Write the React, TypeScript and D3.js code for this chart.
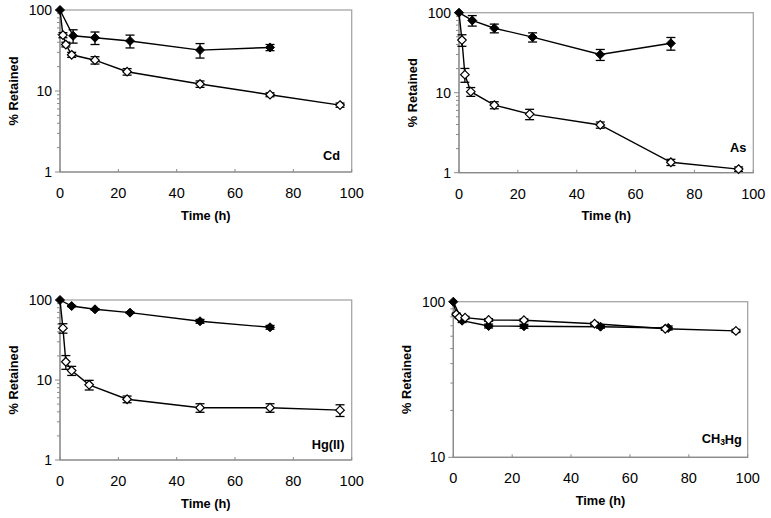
import React from "react";
import * as d3 from "d3";

// ---- Data ----
const cdFilledT = [0, 4.5, 12, 24, 48, 72];
const cdFilledV = [100, 48, 45.5, 41.5, 32, 34.5];
const cdFilledE = [0, 9, 8, 7.5, 6.5, 3];
const cdOpenT = [0, 1, 2, 4, 12, 23, 48, 72, 96];
const cdOpenV = [100, 49, 37.5, 28, 24, 17.3, 12.2, 9, 6.7];
const cdOpenE = [0, 3.5, 2.5, 2, 2.5, 1.6, 1.1, 0.5, 0.4];

const asFilledT = [0, 4.5, 12, 25, 48, 72];
const asFilledV = [100, 80, 64, 49.5, 30, 41.5];
const asFilledE = [0, 12, 8, 6.5, 4.7, 7.5];
const asOpenT = [0, 1, 2, 4, 12, 24, 48, 72, 95];
const asOpenV = [100, 45.5, 16.8, 10.3, 7, 5.4, 3.95, 1.35, 1.11];
const asOpenE = [0, 7.5, 3.3, 1.3, 0.7, 0.8, 0.35, 0.12, 0.07];

const hgFilledT = [0, 4, 12, 24, 48, 72];
const hgFilledV = [100, 84, 76.5, 69.5, 54.2, 45.6];
const hgFilledE = [0, 1.5, 1.5, 1.5, 3, 2.5];
const hgOpenT = [0, 1, 2, 4, 10, 23, 48, 72, 96];
const hgOpenV = [100, 44.5, 16.9, 13.1, 8.7, 5.75, 4.5, 4.5, 4.2];
const hgOpenE = [0, 6, 3.3, 1.7, 1.2, 0.55, 0.55, 0.55, 0.7];

const mhgFilledT = [0, 3, 12, 24, 50, 73];
const mhgFilledV = [100, 75.5, 69.8, 69.5, 69.1, 67.8];
const mhgFilledE = [0, 2, 2, 2, 1.5, 2];
const mhgOpenT = [0, 1, 2, 4, 12, 24, 48, 72, 96];
const mhgOpenV = [100, 83, 79.4, 79, 76.3, 76, 72.2, 67, 64.9];
const mhgOpenE = [0, 1.5, 1.5, 1.5, 1.5, 1.5, 1.5, 1.5, 1.5];

const xTicks = [0, 20, 40, 60, 80, 100];
const xLabel = "Time (h)";
const yLabel = "% Retained";

type Panel = {
  left: number; right: number; top: number; bottom: number;
  yDomain: [number, number];
  label: string; sub?: boolean; labelT: number; labelV: number;
  fT: number[]; fV: number[]; fE: number[];
  oT: number[]; oV: number[]; oE: number[];
};

const panels: Panel[] = [
  { left: 60, right: 351.7, top: 10, bottom: 172, yDomain: [1, 100], label: "Cd", labelT: 93.1, labelV: 1.62,
    fT: cdFilledT, fV: cdFilledV, fE: cdFilledE, oT: cdOpenT, oV: cdOpenV, oE: cdOpenE },
  { left: 459, right: 753.3, top: 12.7, bottom: 172.7, yDomain: [1, 100], label: "As", labelT: 94.9, labelV: 2.04,
    fT: asFilledT, fV: asFilledV, fE: asFilledE, oT: asOpenT, oV: asOpenV, oE: asOpenE },
  { left: 60, right: 351.7, top: 300, bottom: 460, yDomain: [1, 100], label: "Hg(II)", labelT: 91.9, labelV: 1.54,
    fT: hgFilledT, fV: hgFilledV, fE: hgFilledE, oT: hgOpenT, oV: hgOpenV, oE: hgOpenE },
  { left: 453.3, right: 747.7, top: 301.7, bottom: 457.3, yDomain: [10, 100], label: "CH3Hg", sub: true, labelT: 91.2, labelV: 13.2,
    fT: mhgFilledT, fV: mhgFilledV, fE: mhgFilledE, oT: mhgOpenT, oV: mhgOpenV, oE: mhgOpenE },
];

const FONT = "Arial, 'Liberation Sans', sans-serif";
const AXIS = "#8a8a8a";

function diamond(x: number, y: number, r: number) {
  return `M${x},${y - r}L${x + r},${y}L${x},${y + r}L${x - r},${y}Z`;
}

function PanelView({ p }: { p: Panel }) {
  const x = d3.scaleLinear().domain([0, 100]).range([p.left, p.right]);
  const y = d3.scaleLog().domain(p.yDomain).range([p.bottom, p.top]);
  const line = d3.line<[number, number]>().x(d => x(d[0])).y(d => y(d[1]));
  const fPts = p.fT.map((t, i) => [t, p.fV[i]] as [number, number]);
  const oPts = p.oT.map((t, i) => [t, p.oV[i]] as [number, number]);
  const [lo, hi] = p.yDomain;
  const majors: number[] = [];
  const minors: number[] = [];
  for (let d = lo; d <= hi; d *= 10) {
    majors.push(d);
    if (d < hi) for (let k = 2; k <= 9; k++) minors.push(d * k);
  }
  const cap = 4.5;
  const errBars = (T: number[], V: number[], E: number[], key: string) =>
    T.map((t, i) => {
      if (!E[i]) return null;
      const cx = x(t), y1 = y(V[i] + E[i]), y2 = y(V[i] - E[i]);
      return (
        <g key={key + i} stroke="#000" strokeWidth={1.3}>
          <line x1={cx} x2={cx} y1={y1} y2={y2} />
          <line x1={cx - cap} x2={cx + cap} y1={y1} y2={y1} />
          <line x1={cx - cap} x2={cx + cap} y1={y2} y2={y2} />
        </g>
      );
    });
  const midY = (p.top + p.bottom) / 2;
  const midX = (p.left + p.right) / 2;
  return (
    <g>
      {/* frame */}
      <rect x={p.left} y={p.top} width={p.right - p.left} height={p.bottom - p.top} fill="none" stroke="#a6a6a6" strokeWidth={1.3} />
      <line x1={p.left} x2={p.left} y1={p.top} y2={p.bottom} stroke={AXIS} strokeWidth={1.2} />
      <line x1={p.left} x2={p.right} y1={p.bottom} y2={p.bottom} stroke={AXIS} strokeWidth={1.2} />
      {/* y ticks */}
      {minors.map(v => (
        <line key={"mn" + v} x1={p.left - 3} x2={p.left} y1={y(v)} y2={y(v)} stroke={AXIS} strokeWidth={1} />
      ))}
      {majors.map(v => (
        <g key={"mj" + v}>
          <line x1={p.left - 5} x2={p.left} y1={y(v)} y2={y(v)} stroke={AXIS} strokeWidth={1} />
          <text x={p.left - 8} y={y(v)} textAnchor="end" dominantBaseline="central" fontSize={14} fontFamily={FONT} fill="#000">{v}</text>
        </g>
      ))}
      {/* x ticks */}
      {xTicks.map(t => (
        <g key={"xt" + t}>
          <line x1={x(t)} x2={x(t)} y1={p.bottom - 3} y2={p.bottom} stroke={AXIS} strokeWidth={1} />
          <text x={x(t)} y={p.bottom + 26} textAnchor="middle" fontSize={14.5} fontFamily={FONT} fill="#000">{t}</text>
        </g>
      ))}
      <text x={midX} y={p.bottom + 47.5} textAnchor="middle" fontSize={12.8} fontWeight="bold" fontFamily={FONT}>{xLabel}</text>
      <text transform={`translate(${p.left - 47},${midY}) rotate(-90)`} textAnchor="middle" dominantBaseline="central" fontSize={12.8} fontWeight="bold" fontFamily={FONT}>{yLabel}</text>
      {/* element label */}
      <text x={x(p.labelT)} y={y(p.labelV)} textAnchor="middle" dominantBaseline="central" fontSize={12.8} fontWeight="bold" fontFamily={FONT}>
        {p.sub ? (<>CH<tspan fontSize={8.5} dy={3}>3</tspan><tspan dy={-3}>Hg</tspan></>) : p.label}
      </text>
      {/* lines */}
      <path d={line(fPts) || ""} fill="none" stroke="#000" strokeWidth={1.4} />
      <path d={line(oPts) || ""} fill="none" stroke="#000" strokeWidth={1.4} />
      {errBars(p.fT, p.fV, p.fE, "fe")}
      {errBars(p.oT, p.oV, p.oE, "oe")}
      {fPts.map((d, i) => (
        <path key={"fm" + i} d={diamond(x(d[0]), y(d[1]), 4.5)} fill="#000" stroke="#000" strokeWidth={1} />
      ))}
      {oPts.slice(1).map((d, i) => (
        <path key={"om" + i} d={diamond(x(d[0]), y(d[1]), 4.3)} fill="#fff" stroke="#000" strokeWidth={1.2} />
      ))}
    </g>
  );
}

export default function App() {
  return (
    <svg width={771} height={518} style={{ position: "absolute", left: 0, top: 0, background: "#fff" }}>
      <rect x={0} y={0} width={771} height={518} fill="#fff" />
      {panels.map((p, i) => <PanelView key={i} p={p} />)}
    </svg>
  );
}
